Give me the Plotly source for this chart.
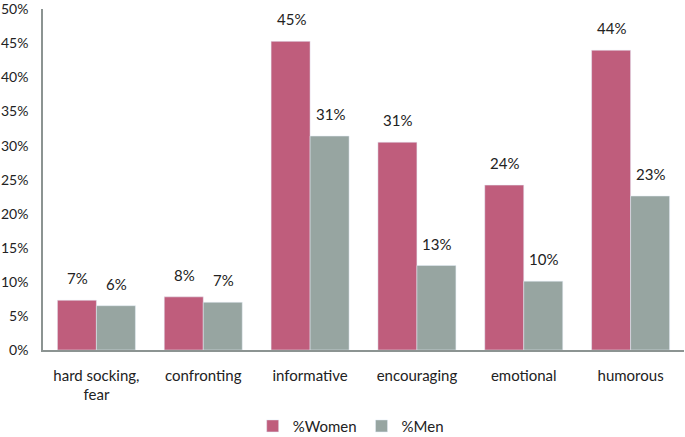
import plotly.graph_objects as go

categories = ["hard socking,<br>fear", "confronting", "informative", "encouraging", "emotional", "humorous"]
women = [7.3, 7.8, 45.3, 30.5, 24.2, 44.0]
men = [6.5, 7.0, 31.4, 12.4, 10.1, 22.6]
women_labels = ["7%", "8%", "45%", "31%", "24%", "44%"]
men_labels = ["6%", "7%", "31%", "13%", "10%", "23%"]
y_ticks = [0, 5, 10, 15, 20, 25, 30, 35, 40, 45, 50]

font = "Lato, 'Open Sans', sans-serif"
fs = 15

fig = go.Figure()
fig.add_trace(go.Bar(x=categories, y=women, name="%Women", marker_color="#BF5D7C"))
fig.add_trace(go.Bar(x=categories, y=men, name="%Men", marker_color="#97A5A1"))

for cat, v, lab in zip(categories, women, women_labels):
    fig.add_annotation(x=cat, y=v, text=lab, showarrow=False, xshift=-19, yshift=22,
                       font=dict(size=fs, color="#222"))
for cat, v, lab in zip(categories, men, men_labels):
    fig.add_annotation(x=cat, y=v, text=lab, showarrow=False, xshift=20, yshift=22,
                       font=dict(size=fs, color="#222"))

fig.update_layout(
    width=685, height=437,
    margin=dict(l=43, r=1, t=9, b=87, autoexpand=False),
    paper_bgcolor="white", plot_bgcolor="white",
    barmode="group", bargap=0.27, bargroupgap=0,
    font=dict(family=font, size=fs, color="#222"),
    showlegend=True,
    legend=dict(orientation="h", x=0.48, xanchor="center", y=-0.175, yanchor="top",
                font=dict(size=fs), traceorder="normal"),
    xaxis=dict(showline=True, linecolor="#8C9492", linewidth=1.5, ticks="",
               tickfont=dict(size=fs), showgrid=False, automargin=False,
               ticklabelstandoff=11),
    yaxis=dict(range=[0, 50.05], tickvals=y_ticks, ticktext=[f"{v}%" for v in y_ticks],
               showline=True, linecolor="#8C9492", linewidth=1.5, showgrid=False,
               ticks="", tickfont=dict(size=14), zeroline=False, automargin=False,
               ticklabelstandoff=10, ticklabeloverflow="allow"),
)

fig.write_html("out.html", config={"displayModeBar": False},
               post_script="document.body.style.margin='0';")
